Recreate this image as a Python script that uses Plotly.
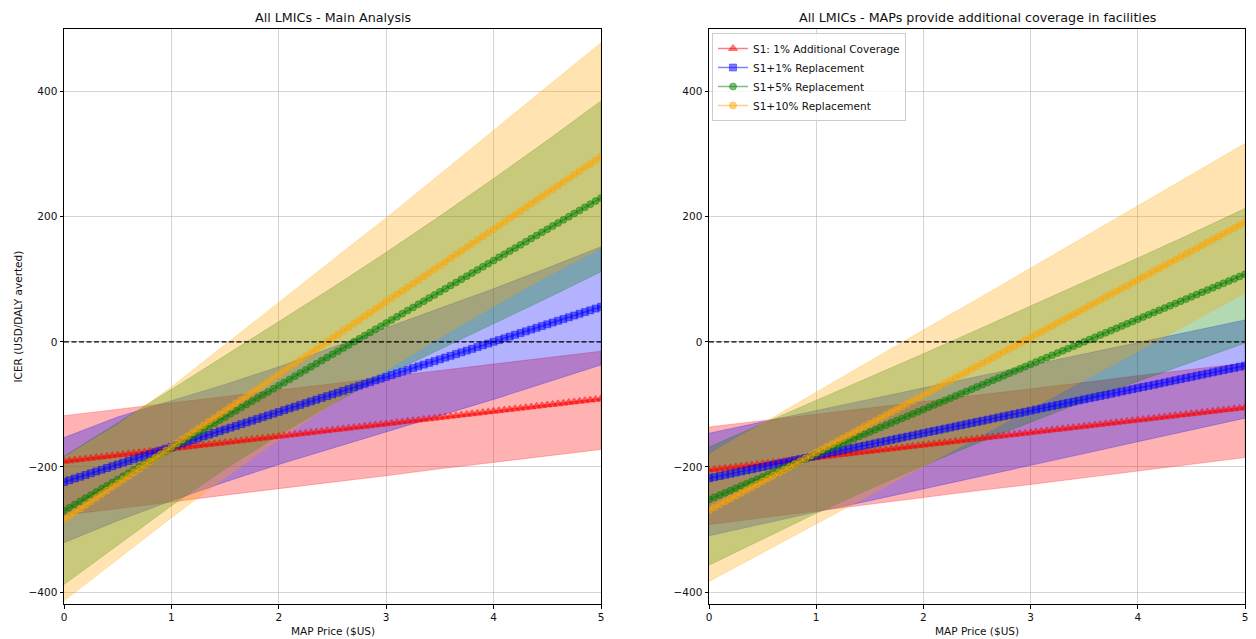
import plotly.graph_objects as go

# ---------------- data ----------------
price = [0.0, 0.05, 0.1, 0.15, 0.2, 0.25, 0.3, 0.35, 0.4, 0.45,
         0.5, 0.55, 0.6, 0.65, 0.7, 0.75, 0.8, 0.85, 0.9, 0.95,
         1.0, 1.05, 1.1, 1.15, 1.2, 1.25, 1.3, 1.35, 1.4, 1.45,
         1.5, 1.55, 1.6, 1.65, 1.7, 1.75, 1.8, 1.85, 1.9, 1.95,
         2.0, 2.05, 2.1, 2.15, 2.2, 2.25, 2.3, 2.35, 2.4, 2.45,
         2.5, 2.55, 2.6, 2.65, 2.7, 2.75, 2.8, 2.85, 2.9, 2.95,
         3.0, 3.05, 3.1, 3.15, 3.2, 3.25, 3.3, 3.35, 3.4, 3.45,
         3.5, 3.55, 3.6, 3.65, 3.7, 3.75, 3.8, 3.85, 3.9, 3.95,
         4.0, 4.05, 4.1, 4.15, 4.2, 4.25, 4.3, 4.35, 4.4, 4.45,
         4.5, 4.55, 4.6, 4.65, 4.7, 4.75, 4.8, 4.85, 4.9, 4.95,
         5.0]

# Main analysis - mean ICER lines
main_s1 = [-191, -190, -189, -188, -187, -186, -185, -184, -183, -182,
           -181, -180, -179, -178, -177, -176, -175, -174, -173, -172,
           -171, -170, -169, -168, -167, -166, -165, -164, -163, -162,
           -161, -160, -159, -158, -157, -156, -155, -154, -153, -152,
           -151, -150, -149, -148, -147, -146, -145, -144, -143, -142,
           -141, -140, -139, -138, -137, -136, -135, -134, -133, -132,
           -131, -130, -129, -128, -127, -126, -125, -124, -123, -122,
           -121, -120, -119, -118, -117, -116, -115, -114, -113, -112,
           -111, -110, -109, -108, -107, -106, -105, -104, -103, -102,
           -101, -100, -99, -98, -97, -96, -95, -94, -93, -92,
           -91]
main_r1 = [-224, -221.2, -218.4, -215.6, -212.8, -210, -207.2, -204.4, -201.6, -198.8,
           -196, -193.2, -190.4, -187.6, -184.8, -182, -179.2, -176.4, -173.6, -170.8,
           -168, -165.2, -162.4, -159.6, -156.8, -154, -151.2, -148.4, -145.6, -142.8,
           -140, -137.2, -134.4, -131.6, -128.8, -126, -123.2, -120.4, -117.6, -114.8,
           -112, -109.2, -106.4, -103.6, -100.8, -98, -95.2, -92.4, -89.6, -86.8,
           -84, -81.2, -78.4, -75.6, -72.8, -70, -67.2, -64.4, -61.6, -58.8,
           -56, -53.2, -50.4, -47.6, -44.8, -42, -39.2, -36.4, -33.6, -30.8,
           -28, -25.2, -22.4, -19.6, -16.8, -14, -11.2, -8.4, -5.6, -2.8,
           0, 2.8, 5.6, 8.4, 11.2, 14, 16.8, 19.6, 22.4, 25.2,
           28, 30.8, 33.6, 36.4, 39.2, 42, 44.8, 47.6, 50.4, 53.2,
           56]
main_r5 = [-270, -265, -260, -255, -250, -245, -240, -235, -230, -225,
           -220, -215, -210, -205, -200, -195, -190, -185, -180, -175,
           -170, -165, -160, -155, -150, -145, -140, -135, -130, -125,
           -120, -115, -110, -105, -100, -95, -90, -85, -80, -75,
           -70, -65, -60, -55, -50, -45, -40, -35, -30, -25,
           -20, -15, -10, -5, 0, 5, 10, 15, 20, 25,
           30, 35, 40, 45, 50, 55, 60, 65, 70, 75,
           80, 85, 90, 95, 100, 105, 110, 115, 120, 125,
           130, 135, 140, 145, 150, 155, 160, 165, 170, 175,
           180, 185, 190, 195, 200, 205, 210, 215, 220, 225,
           230]
main_r10 = [-284, -278.2, -272.4, -266.6, -260.8, -255, -249.2, -243.4, -237.6, -231.8,
            -226, -220.2, -214.4, -208.6, -202.8, -197, -191.2, -185.4, -179.6, -173.8,
            -168, -162.2, -156.4, -150.6, -144.8, -139, -133.2, -127.4, -121.6, -115.8,
            -110, -104.2, -98.4, -92.6, -86.8, -81, -75.2, -69.4, -63.6, -57.8,
            -52, -46.2, -40.4, -34.6, -28.8, -23, -17.2, -11.4, -5.6, 0.2,
            6, 11.8, 17.6, 23.4, 29.2, 35, 40.8, 46.6, 52.4, 58.2,
            64, 69.8, 75.6, 81.4, 87.2, 93, 98.8, 104.6, 110.4, 116.2,
            122, 127.8, 133.6, 139.4, 145.2, 151, 156.8, 162.6, 168.4, 174.2,
            180, 185.8, 191.6, 197.4, 203.2, 209, 214.8, 220.6, 226.4, 232.2,
            238, 243.8, 249.6, 255.4, 261.2, 267, 272.8, 278.6, 284.4, 290.2,
            296]

# Facilities scenario - mean ICER lines
fac_s1 = [-205, -204, -203, -202, -201, -200, -199, -198, -197, -196,
          -195, -194, -193, -192, -191, -190, -189, -188, -187, -186,
          -185, -184, -183, -182, -181, -180, -179, -178, -177, -176,
          -175, -174, -173, -172, -171, -170, -169, -168, -167, -166,
          -165, -164, -163, -162, -161, -160, -159, -158, -157, -156,
          -155, -154, -153, -152, -151, -150, -149, -148, -147, -146,
          -145, -144, -143, -142, -141, -140, -139, -138, -137, -136,
          -135, -134, -133, -132, -131, -130, -129, -128, -127, -126,
          -125, -124, -123, -122, -121, -120, -119, -118, -117, -116,
          -115, -114, -113, -112, -111, -110, -109, -108, -107, -106,
          -105]
fac_r1 = [-218, -216.2, -214.4, -212.6, -210.8, -209, -207.2, -205.4, -203.6, -201.8,
          -200, -198.2, -196.4, -194.6, -192.8, -191, -189.2, -187.4, -185.6, -183.8,
          -182, -180.2, -178.4, -176.6, -174.8, -173, -171.2, -169.4, -167.6, -165.8,
          -164, -162.2, -160.4, -158.6, -156.8, -155, -153.2, -151.4, -149.6, -147.8,
          -146, -144.2, -142.4, -140.6, -138.8, -137, -135.2, -133.4, -131.6, -129.8,
          -128, -126.2, -124.4, -122.6, -120.8, -119, -117.2, -115.4, -113.6, -111.8,
          -110, -108.2, -106.4, -104.6, -102.8, -101, -99.2, -97.4, -95.6, -93.8,
          -92, -90.2, -88.4, -86.6, -84.8, -83, -81.2, -79.4, -77.6, -75.8,
          -74, -72.2, -70.4, -68.6, -66.8, -65, -63.2, -61.4, -59.6, -57.8,
          -56, -54.2, -52.4, -50.6, -48.8, -47, -45.2, -43.4, -41.6, -39.8,
          -38]
fac_r5 = [-252, -248.4, -244.8, -241.2, -237.6, -234, -230.4, -226.8, -223.2, -219.6,
          -216, -212.4, -208.8, -205.2, -201.6, -198, -194.4, -190.8, -187.2, -183.6,
          -180, -176.4, -172.8, -169.2, -165.6, -162, -158.4, -154.8, -151.2, -147.6,
          -144, -140.4, -136.8, -133.2, -129.6, -126, -122.4, -118.8, -115.2, -111.6,
          -108, -104.4, -100.8, -97.2, -93.6, -90, -86.4, -82.8, -79.2, -75.6,
          -72, -68.4, -64.8, -61.2, -57.6, -54, -50.4, -46.8, -43.2, -39.6,
          -36, -32.4, -28.8, -25.2, -21.6, -18, -14.4, -10.8, -7.2, -3.6,
          0, 3.6, 7.2, 10.8, 14.4, 18, 21.6, 25.2, 28.8, 32.4,
          36, 39.6, 43.2, 46.8, 50.4, 54, 57.6, 61.2, 64.8, 68.4,
          72, 75.6, 79.2, 82.8, 86.4, 90, 93.6, 97.2, 100.8, 104.4,
          108]
fac_r10 = [-269, -264.4, -259.8, -255.2, -250.6, -246, -241.4, -236.8, -232.2, -227.6,
           -223, -218.4, -213.8, -209.2, -204.6, -200, -195.4, -190.8, -186.2, -181.6,
           -177, -172.4, -167.8, -163.2, -158.6, -154, -149.4, -144.8, -140.2, -135.6,
           -131, -126.4, -121.8, -117.2, -112.6, -108, -103.4, -98.8, -94.2, -89.6,
           -85, -80.4, -75.8, -71.2, -66.6, -62, -57.4, -52.8, -48.2, -43.6,
           -39, -34.4, -29.8, -25.2, -20.6, -16, -11.4, -6.8, -2.2, 2.4,
           7, 11.6, 16.2, 20.8, 25.4, 30, 34.6, 39.2, 43.8, 48.4,
           53, 57.6, 62.2, 66.8, 71.4, 76, 80.6, 85.2, 89.8, 94.4,
           99, 103.6, 108.2, 112.8, 117.4, 122, 126.6, 131.2, 135.8, 140.4,
           145, 149.6, 154.2, 158.8, 163.4, 168, 172.6, 177.2, 181.8, 186.4,
           191]

# Uncertainty bands (sampled every $0.5)
band_price = [0.0, 0.5, 1.0, 1.5, 2.0, 2.5, 3.0, 3.5, 4.0, 4.5, 5.0]

main_s1_hi = [-118, -108, -97, -87, -77, -67, -56, -46, -36, -25, -15]
main_s1_lo = [-277, -267, -256, -245, -235, -224, -214, -203, -193, -182, -172]
main_r1_hi = [-153, -120, -94, -68, -40, -9, 22, 53, 85, 118, 152]
main_r1_lo = [-321, -286, -254, -224, -196, -170, -144, -118, -92, -65, -37]
main_r5_hi = [-183, -130, -76, -22, 32, 87, 143, 201, 261, 322, 385]
main_r5_lo = [-388, -325, -262, -203, -149, -99, -53, -11, 29, 70, 112]
main_r10_hi = [-185, -133, -72, -5, 63, 131, 198, 268, 338, 408, 478]
main_r10_lo = [-414, -347, -281, -217, -156, -99, -45, 7, 57, 105, 150]

fac_s1_hi = [-136, -126, -116, -105, -95, -85, -75, -65, -54, -44, -34]
fac_s1_lo = [-292, -281, -271, -260, -249, -238, -228, -217, -206, -196, -185]
fac_r1_hi = [-146, -128, -110, -92, -73, -55, -37, -19, -1, 17, 35]
fac_r1_lo = [-310, -291, -272, -254, -235, -216, -197, -178, -160, -141, -122]
fac_r5_hi = [-168, -131, -94, -57, -19, 19, 57, 96, 134, 173, 213]
fac_r5_lo = [-357, -315, -274, -235, -198, -162, -128, -95, -63, -32, -2]
fac_r10_hi = [-180, -130, -81, -31, 19, 68, 118, 168, 218, 267, 317]
fac_r10_lo = [-383, -337, -291, -245, -199, -153, -107, -61, -15, 31, 78]

series_names = ["S1: 1% Additional Coverage", "S1+1% Replacement",
                "S1+5% Replacement", "S1+10% Replacement"]
subplot_titles = ["All LMICs - Main Analysis",
                  "All LMICs - MAPs provide additional coverage in facilities"]
x_ticks = [0, 1, 2, 3, 4, 5]
y_ticks = [-400, -200, 0, 200, 400]

# ---------------- style ----------------
rgb = [(255, 0, 0), (0, 0, 255), (0, 128, 0), (255, 165, 0)]
symbols = ["triangle-up", "square", "circle", "circle"]
msizes = [8, 7, 7, 7]
FONT = "DejaVu Sans"

W, H = 1256, 639
left_dom = [64 / W, 601 / W]
right_dom = [709 / W, 1245 / W]
y_dom = [1 - 604 / H, 1 - 29 / H]

fig = go.Figure()

panels = [
    ("x", "y",
     [(main_s1_hi, main_s1_lo), (main_r1_hi, main_r1_lo),
      (main_r5_hi, main_r5_lo), (main_r10_hi, main_r10_lo)],
     [main_s1, main_r1, main_r5, main_r10], False),
    ("x2", "y2",
     [(fac_s1_hi, fac_s1_lo), (fac_r1_hi, fac_r1_lo),
      (fac_r5_hi, fac_r5_lo), (fac_r10_hi, fac_r10_lo)],
     [fac_s1, fac_r1, fac_r5, fac_r10], True),
]

for xa, ya, bands, means, show in panels:
    for (hi, lo), (r, g, b) in zip(bands, rgb):
        fc = f"rgba({r},{g},{b},0.3)"
        fig.add_trace(go.Scatter(
            x=band_price + band_price[::-1], y=hi + lo[::-1],
            fill="toself", fillcolor=fc, mode="lines",
            line=dict(color=fc, width=0.8),
            hoverinfo="skip", showlegend=False, xaxis=xa, yaxis=ya))
    for m, name, (r, g, b), sym, ms in zip(means, series_names, rgb, symbols, msizes):
        c = f"rgba({r},{g},{b},0.5)"
        fig.add_trace(go.Scatter(
            x=price, y=m, mode="lines+markers", name=name,
            line=dict(color=c, width=1.5),
            marker=dict(symbol=sym, size=ms, color=c, line=dict(width=0.8, color=c)),
            showlegend=show, xaxis=xa, yaxis=ya))

axis_common = dict(
    showgrid=True, gridcolor="rgba(176,176,176,0.55)", gridwidth=1,
    showline=True, linecolor="black", linewidth=1, mirror=True,
    ticks="outside", ticklen=3.5, tickwidth=0.8, tickcolor="black",
    zeroline=False, tickfont=dict(family=FONT, size=10.5, color="#111"),
    automargin=False,
)

fig.update_layout(
    width=W, height=H,
    margin=dict(l=0, r=0, t=0, b=0),
    paper_bgcolor="white", plot_bgcolor="white",
    font=dict(family=FONT, size=10.5, color="#111"),
    xaxis=dict(domain=left_dom, range=[0, 5], tickvals=x_ticks, anchor="y", **axis_common),
    yaxis=dict(domain=y_dom, range=[-419, 500], tickvals=y_ticks, anchor="x", **axis_common),
    xaxis2=dict(domain=right_dom, range=[0, 5], tickvals=x_ticks, anchor="y2", **axis_common),
    yaxis2=dict(domain=y_dom, range=[-419, 500], tickvals=y_ticks, anchor="x2", **axis_common),
    legend=dict(
        x=712 / W, y=1 - 33 / H, xanchor="left", yanchor="top",
        bgcolor="rgba(255,255,255,0.8)", bordercolor="#cccccc", borderwidth=1,
        font=dict(family=FONT, size=10.5, color="#111"),
        itemwidth=30, tracegroupgap=0,
    ),
    showlegend=True,
    shapes=[
        dict(type="line", xref="x", yref="y", x0=0, x1=5, y0=0, y1=0,
             line=dict(color="black", width=1.2, dash="5px,2.5px")),
        dict(type="line", xref="x2", yref="y2", x0=0, x1=5, y0=0, y1=0,
             line=dict(color="black", width=1.2, dash="5px,2.5px")),
    ],
    annotations=[
        dict(text=subplot_titles[0], x=(left_dom[0] + left_dom[1]) / 2, y=1 - 18 / H,
             xref="paper", yref="paper", showarrow=False,
             font=dict(family=FONT, size=12.7, color="#111"), xanchor="center", yanchor="middle"),
        dict(text=subplot_titles[1], x=(right_dom[0] + right_dom[1]) / 2, y=1 - 18 / H,
             xref="paper", yref="paper", showarrow=False,
             font=dict(family=FONT, size=12.7, color="#111"), xanchor="center", yanchor="middle"),
        dict(text="MAP Price ($US)", x=(left_dom[0] + left_dom[1]) / 2, y=1 - 631 / H,
             xref="paper", yref="paper", showarrow=False,
             font=dict(family=FONT, size=10.5, color="#111"), xanchor="center", yanchor="middle"),
        dict(text="MAP Price ($US)", x=(right_dom[0] + right_dom[1]) / 2, y=1 - 631 / H,
             xref="paper", yref="paper", showarrow=False,
             font=dict(family=FONT, size=10.5, color="#111"), xanchor="center", yanchor="middle"),
        dict(text="ICER (USD/DALY averted)", x=18 / W, y=(y_dom[0] + y_dom[1]) / 2,
             xref="paper", yref="paper", showarrow=False, textangle=-90,
             font=dict(family=FONT, size=10.5, color="#111"), xanchor="center", yanchor="middle"),
    ],
)

fig.write_html("out.html")
